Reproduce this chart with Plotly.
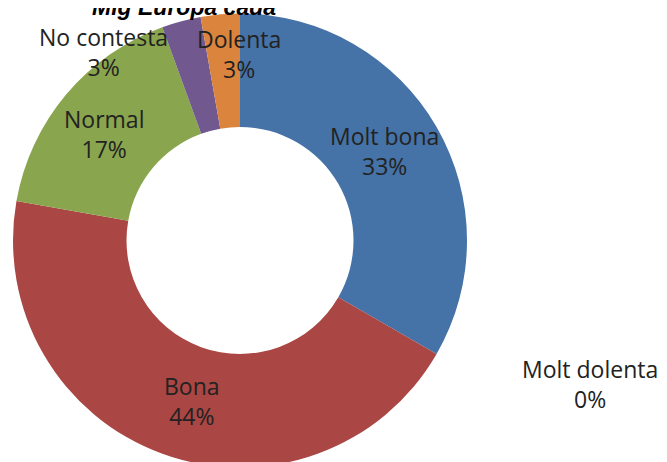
import plotly.graph_objects as go

# ---- data ----
categories = ["Molt bona", "Bona", "Normal", "No contesta", "Molt dolenta", "Dolenta"]
counts = [12, 16, 6, 1, 0, 1]
colors = ["#4572A7", "#AA4643", "#89A54E", "#71588F", "#4198AF", "#DB843D"]
title_text = "Mig Europa cada"

# ---- layout geometry (pixels from top-left of the page) ----
W, H = 667, 462
OFF = 8  # page body margin compensation
label_px = {
    "Molt bona": (385, 151),
    "Bona": (192, 401),
    "Normal": (104, 134),
    "No contesta": (104, 52),
    "Molt dolenta": (590, 384),
    "Dolenta": (239, 54),
}


def px_x(x):
    return (x - OFF) / W


def px_y(y):
    return 1 - (y - OFF) / H


total = sum(counts)

fig = go.Figure()
fig.add_trace(go.Pie(
    labels=categories,
    values=counts,
    marker=dict(colors=colors, line=dict(width=0)),
    hole=0.5,
    sort=False,
    direction="clockwise",
    rotation=0,
    textinfo="none",
    hoverinfo="label+percent",
    showlegend=False,
    domain=dict(x=[px_x(13), px_x(467)], y=[0, px_y(11)]),
))

for cat, val in zip(categories, counts):
    px, py = label_px[cat]
    pct = round(100 * val / total)
    fig.add_annotation(
        x=px_x(px), y=px_y(py), xref="paper", yref="paper",
        text=f"{cat}<br>{pct}%", showarrow=False,
        xanchor="center", yanchor="middle", align="center",
        font=dict(family="Open Sans", size=23, color="#222222"),
    )

fig.add_annotation(
    x=px_x(184), y=px_y(22), xref="paper", yref="paper",
    text=title_text, showarrow=False, xanchor="center", yanchor="bottom",
    font=dict(family="Liberation Sans", size=23, color="#000000",
              weight="bold", style="italic"),
)

fig.update_layout(
    width=W, height=H,
    margin=dict(l=0, r=0, t=0, b=0),
    paper_bgcolor="white",
    plot_bgcolor="white",
)

fig.write_html("out.html")
